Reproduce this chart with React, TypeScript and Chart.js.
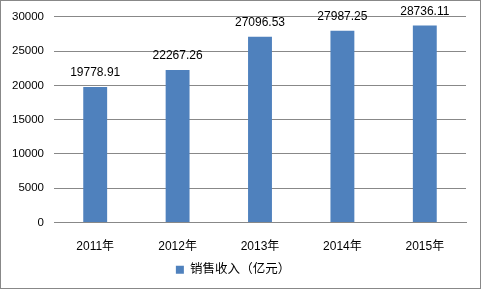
import React, { useEffect, useRef } from "react";
import { Chart, registerables } from "chart.js";

Chart.register(...registerables);

const categories = ["2011年", "2012年", "2013年", "2014年", "2015年"];
const salesRevenue = [19778.91, 22267.26, 27096.53, 27987.25, 28736.11];
const seriesLabel = "销售收入（亿元）";
const yTicks = [0, 5000, 10000, 15000, 20000, 25000, 30000];

const FONT = "'Liberation Sans', 'Noto Sans CJK SC', sans-serif";

const dataLabels = {
  id: "dataLabels",
  afterDatasetsDraw(chart: any) {
    const ctx = chart.ctx;
    const meta = chart.getDatasetMeta(0);
    ctx.save();
    ctx.font = `12px ${FONT}`;
    ctx.fillStyle = "#000";
    ctx.textAlign = "center";
    ctx.textBaseline = "bottom";
    meta.data.forEach((el: any, i: number) => {
      const v = chart.data.datasets[0].data[i] as number;
      ctx.fillText(v.toFixed(2), el.x, el.y - 8);
    });
    ctx.restore();
  },
};

export default function App() {
  const ref = useRef<HTMLCanvasElement | null>(null);
  useEffect(() => {
    document.body.style.margin = "0";
    const chart = new Chart(ref.current!, {
      type: "bar",
      data: {
        labels: categories,
        datasets: [
          {
            label: seriesLabel,
            data: salesRevenue,
            backgroundColor: "#4F81BD",
            barPercentage: 0.29,
            categoryPercentage: 1,
          },
        ],
      },
      options: {
        animation: false,
        responsive: false,
        layout: { padding: { left: 0, right: 15, top: 15, bottom: 3 } },
        plugins: {
          legend: {
            display: true,
            position: "bottom",
            labels: {
              boxWidth: 8,
              boxHeight: 8,
              padding: 10,
              color: "#000",
              font: { size: 12.5, family: FONT },
            },
          },
          tooltip: { enabled: false },
        },
        scales: {
          x: {
            grid: { display: false },
            border: { display: true, color: "#888888", width: 1 },
            ticks: { color: "#000", padding: 9, font: { size: 12, family: FONT } },
            afterFit: (s: any) => {
              s.height = 31;
            },
          },
          y: {
            min: 0,
            max: 30000,
            afterBuildTicks: (s: any) => {
              s.ticks = yTicks.map((v) => ({ value: v }));
            },
            grid: { color: "#888888", drawTicks: false },
            border: { display: false },
            ticks: {
              color: "#000",
              padding: 10,
              font: { size: 11.5, family: FONT },
              callback: (v: any) => String(v),
            },
            afterFit: (s: any) => {
              s.width = 54;
            },
          },
        },
      },
      plugins: [dataLabels],
    });
    return () => chart.destroy();
  }, []);
  return (
    <div style={{ position: "relative", width: 481, height: 289 }}>
      <canvas ref={ref} width={481} height={289} style={{ display: "block" }} />
      <div
        style={{
          position: "absolute",
          left: 0,
          top: 0,
          width: 481,
          height: 289,
          boxSizing: "border-box",
          border: "1px solid #888888",
          pointerEvents: "none",
        }}
      />
    </div>
  );
}
